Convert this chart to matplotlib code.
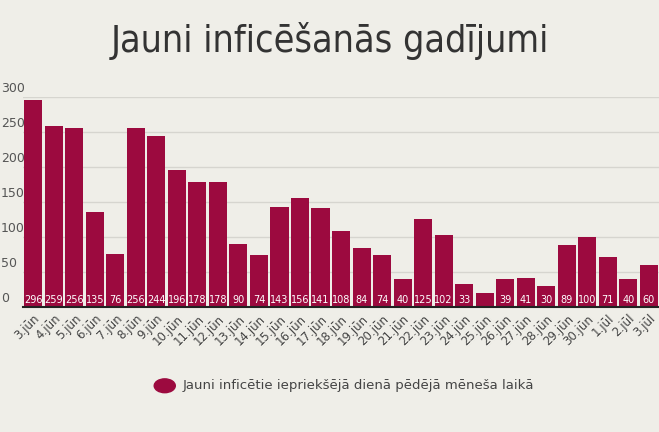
import matplotlib
matplotlib.use("Agg")
import matplotlib.pyplot as plt
from matplotlib.patches import Circle

categories = ["3.jūn","4.jūn","5.jūn","6.jūn","7.jūn","8.jūn","9.jūn","10.jūn","11.jūn","12.jūn",
              "13.jūn","14.jūn","15.jūn","16.jūn","17.jūn","18.jūn","19.jūn","20.jūn","21.jūn","22.jūn",
              "23.jūn","24.jūn","25.jūn","26.jūn","27.jūn","28.jūn","29.jūn","30.jūn","1.jūl","2.jūl","3.jūl"]
values = [296,259,256,135,76,256,244,196,178,178,90,74,143,156,141,108,84,74,40,125,
          102,33,20,39,41,30,89,100,71,40,60]
labels = ["296","259","256","135","76","256","244","196","178","178","90","74","143","156","141","108","84","74","40","125",
          "102","33","","39","41","30","89","100","71","40","60"]
yticks = [0,50,100,150,200,250,300]

bg = "#efeee8"
col = "#9c0a3f"
fig = plt.figure(figsize=(6.59,4.32), dpi=100, facecolor=bg)
ax = fig.add_axes([0.035, 0.29, 0.965, 0.485], facecolor=bg)
x = range(len(values))
ax.bar(x, values, width=0.88, color=col, zorder=2)
for i,(v,l) in enumerate(zip(values,labels)):
    ax.text(i, 3, l, ha="center", va="bottom", color="white", fontsize=7, zorder=3)
ax.set_xlim(-0.5, len(values)-0.5)
ax.set_ylim(0, 300)
ax.set_yticks(yticks)
ax.set_yticklabels([])
ax.tick_params(axis="y", length=0)
for t in yticks:
    ax.text(-0.035, t + 3, str(t), transform=ax.get_yaxis_transform(), ha="left", va="bottom",
            fontsize=9, color="#555555", zorder=1)
ax.grid(axis="y", color="#d6d5cf", lw=1, zorder=0)
ax.set_xticks(list(x))
ax.set_xticklabels(categories, rotation=45, ha="right", rotation_mode="anchor", fontsize=8.5, color="#444444")
ax.tick_params(axis="x", length=0, pad=4)
for s in ["top","right","left"]:
    ax.spines[s].set_visible(False)
ax.spines["bottom"].set_color("#222222")
ax.spines["bottom"].set_linewidth(1.5)

fig.text(0.5, 0.905, "Jauni inficēšanās gadījumi", ha="center", va="center", fontsize=27,
         color="#333333", fontfamily="DejaVu Sans", fontstretch="condensed")
fig.patches.append(Circle((0.25, 0.107), 0.016, transform=fig.transFigure, color=col,
                          figure=fig))
fig.text(0.277, 0.107, "Jauni inficētie iepriekšējā dienā pēdējā mēneša laikā", ha="left", va="center",
         fontsize=9.5, color="#444444")
fig.savefig("out.png", dpi=100, facecolor=bg)
